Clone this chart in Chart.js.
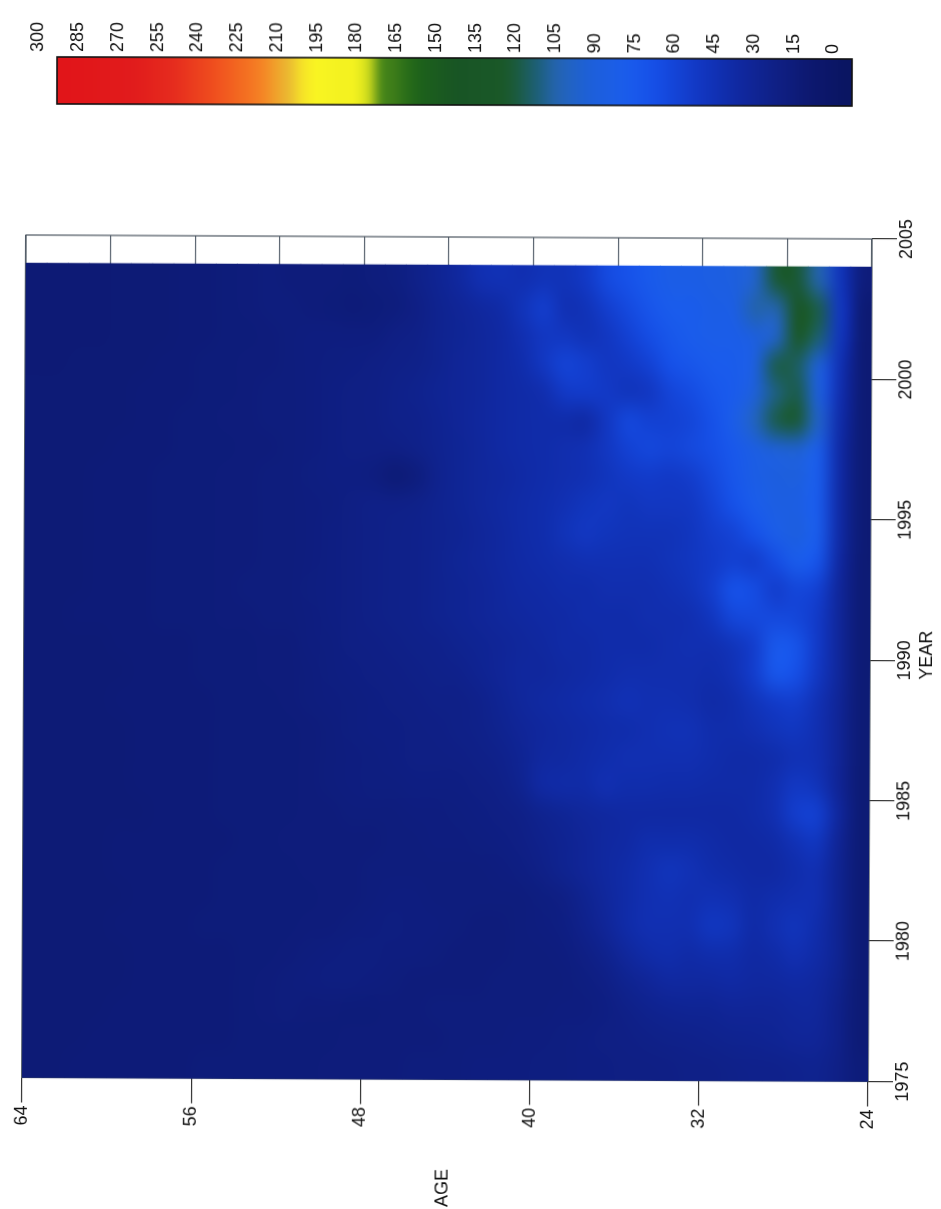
<!DOCTYPE html>
<html><head><meta charset="utf-8">
<style>
html,body{margin:0;padding:0;background:#fff;width:941px;height:1209px;overflow:hidden}
canvas{position:absolute;left:0;top:0;filter:blur(.45px)}
#main{transform-origin:447px 658px;transform:rotate(.27deg)}
#bar{transform-origin:455px 82px;transform:rotate(.15deg)}
</style>
<script src="https://cdn.jsdelivr.net/npm/chart.js@4"></script>
</head><body>
<canvas id="main" width="941" height="1209"></canvas>
<canvas id="bar" width="941" height="125"></canvas>
<script>
const xTitle = "AGE";
const yTitle = "YEAR";
const ageBins = [24,25,26,27,28,29,30,31,32,33,34,35,36,37,38,39,40,41,42,43,44,45,46,47,48,49,50,51,52,53,54,55,56,57,58,59,60,61,62,63];
const yearBins = [1975,1976,1977,1978,1979,1980,1981,1982,1983,1984,1985,1986,1987,1988,1989,1990,1991,1992,1993,1994,1995,1996,1997,1998,1999,2000,2001,2002,2003];
const ageTicksLabelled = [24,32,40,48,56,64];
const y1975=[22,30,34,33,32,32,31,30,30,29, 28,28,27,27,26,26,25,25,25,24, 24,24,23,23,23,23,22,22,22,22, 22,22,21,21,21,21,21,21,20,20];
const y1976=[20,32,38,38,36,35,34,33,32,31, 30,29,28,27,26,25,25,24,24,24, 23,23,23,23,23,22,22,22,22,22, 21,21,21,21,21,21,21,20,20,20];
const y1977=[20,32,40,40,38,38,38,36,36,35, 33,30,27,25,25,24,24,24,24,24, 24,23,23,22,22,23,23,24,23,22, 21,21,21,21,21,21,20,20,20,20];
const y1978=[20,34,42,44,42,42,44,42,42,42, 38,34,29,26,24,24,24,24,23,23, 23,23,24,25,26,26,25,24,23,22, 21,21,21,21,21,20,20,20,20,20];
const y1979=[20,36,46,50,46,44,48,48,46,48, 46,40,33,28,25,24,24,23,23,23, 24,25,25,26,26,25,24,23,22,22, 21,21,21,21,21,20,20,20,20,20];
const y1980=[20,36,48,54,50,46,54,56,50,50, 50,46,38,32,27,25,24,23,23,24, 25,25,26,25,24,23,23,22,22,22, 22,22,21,21,21,21,20,20,20,20];
const y1981=[20,36,50,50,48,46,50,52,50,52, 50,46,40,34,28,26,24,24,24,24, 24,25,25,24,23,23,22,22,22,22, 22,21,21,21,21,20,20,20,20,20];
const y1982=[20,36,50,48,44,44,46,48,52,54, 50,46,42,38,34,30,27,25,24,24, 24,24,24,24,23,23,23,22,22,22, 22,21,21,21,21,21,20,20,20,20];
const y1983=[20,38,56,52,46,44,44,46,48,48, 48,44,42,38,35,32,29,27,26,25, 25,24,24,23,23,23,23,23,22,22, 21,21,21,21,21,21,20,20,20,20];
const y1984=[20,42,64,62,50,46,44,44,44,44, 44,44,42,40,37,34,30,28,27,26, 25,25,24,24,24,23,23,22,22,22, 22,21,21,21,20,20,20,20,20,20];
const y1985=[20,38,54,58,50,46,46,46,47,47, 48,48,50,46,46,44,34,30,28,27, 27,27,26,26,25,24,23,22,22,22, 22,21,21,21,21,20,20,20,20,20];
const y1986=[20,38,50,52,48,46,46,48,50,50, 50,50,48,46,43,42,36,32,30,29, 28,28,27,26,25,24,23,22,22,22, 22,21,21,21,21,20,20,20,20,20];
const y1987=[20,38,50,56,54,50,48,48,52,52, 50,48,47,45,43,41,38,34,31,30, 29,28,27,27,26,24,23,22,22,22, 22,21,21,21,21,20,20,20,20,20];
const y1988=[20,38,52,62,60,54,48,46,49,50, 50,52,49,47,45,43,40,36,32,30, 30,29,28,27,26,25,24,23,22,22, 22,21,21,21,21,21,20,20,20,20];
const y1989=[20,40,58,74,80,62,52,48,49,49, 49,49,47,45,43,41,41,38,35,32, 31,30,29,28,27,26,24,23,23,22, 22,22,21,21,21,20,20,20,20,20];
const y1990=[20,40,60,78,82,62,54,50,50,49, 47,47,47,45,45,42,40,38,36,34, 32,31,30,29,28,26,25,23,23,22, 22,22,21,21,21,21,20,20,20,20];
const y1991=[20,40,60,68,70,70,68,56,50,49, 49,47,47,47,45,44,42,40,38,36, 34,32,31,30,28,27,25,24,24,23, 23,22,22,22,21,21,21,21,20,20];
const y1992=[20,40,64,68,62,72,76,62,54,51, 49,49,49,47,47,45,44,41,38,36, 34,32,31,30,28,27,26,24,24,24, 23,22,22,22,21,21,21,20,20,20];
const y1993=[20,44,78,86,72,62,64,60,56,53, 51,51,51,51,49,47,45,42,39,37, 34,32,31,30,28,27,25,24,24,23, 23,22,22,22,21,21,21,20,20,20];
const y1994=[20,46,86,94,88,76,66,62,56,53, 53,53,55,57,53,48,46,42,39,36, 34,32,31,30,28,27,25,24,24,23, 23,22,22,22,21,21,21,20,20,20];
const y1995=[20,46,84,92,92,86,76,66,58,57, 57,55,57,55,51,48,46,43,40,37, 34,31,30,30,28,26,25,24,24,23, 23,22,22,22,21,21,21,20,20,20];
const y1996=[20,46,86,95,94,90,80,70,62,59, 61,59,55,51,49,47,45,42,40,37, 33,24,20,25,27,27,26,24,24,23, 23,22,22,22,21,21,21,20,20,20];
const y1997=[20,46,88,102,100,92,82,74,70,67, 69,65,57,51,49,47,46,44,40,37, 34,31,29,28,28,27,25,24,23,23, 22,22,22,21,21,21,20,20,20,20];
const y1998=[20,48,105,128,125,108,88,76,68,65, 65,69,57,45,47,47,46,44,41,38, 35,32,31,29,28,27,25,24,24,23, 23,22,22,21,21,20,20,20,20,20];
const y1999=[20,50,96,125,118,100,84,80,72,67, 57,55,59,61,59,49,46,44,40,38, 36,33,31,29,28,27,25,24,24,23, 22,22,21,21,21,20,20,20,20,20];
const y2000=[20,52,100,122,125,96,86,84,80,75, 65,59,57,63,66,57,48,44,40,38, 34,31,30,28,27,26,25,24,23,23, 22,22,21,21,20,20,20,20,19,19];
const y2001=[20,56,120,130,106,96,88,88,86,81, 73,65,57,53,57,57,50,44,40,37, 34,30,28,25,25,25,25,24,23,22, 22,21,21,20,20,20,19,19,19,19];
const y2002=[20,58,125,140,112,112,92,90,86,85, 79,71,63,53,51,62,54,46,42,38, 34,29,24,22,21,22,23,24,24,23, 22,21,21,20,20,20,19,19,19,19];
const y2003=[24,55,112,128,128,105,95,92,90,89, 83,77,71,59,53,53,50,52,50,42, 36,31,26,24,22,23,23,23,24,23, 22,21,21,20,20,20,19,19,19,19];
const rateRows=[y1975,y1976,y1977,y1978,y1979,y1980,y1981,y1982,y1983,y1984,y1985,y1986,y1987,y1988,y1989,y1990,y1991,y1992,y1993,y1994,y1995,y1996,y1997,y1998,y1999,y2000,y2001,y2002,y2003];
const legendBins=[0,5,10,15,20,25,30,35,40,45,50,55,60,65,70,75,80,85,90,95,100,105,110,115,120,125,130,135,140,145,150,155,160,165,170,175,180,185,190,195,200,205,210,215,220,225,230,235,240,245,250,255,260,265,270,275,280,285,290,295];
const stopValues=[0,15,30,45,60,75,85,100,111,120,130,150,165,178,184,205,212,224,240,255,270,300];
const stopColors=[[10,20,96],[12,24,110],[15,32,135],[16,42,165],[18,58,200],[22,80,232],[26,92,236],[30,96,215],[36,100,180],[28,95,110],[26,88,40],[24,84,36],[30,100,25],[80,140,25],[240,240,30],[250,245,35],[235,190,50],[245,125,35],[240,80,30],[230,45,30],[225,28,28],[225,20,25]];

function colorFor(v){
  let i=0; while(i<stopValues.length-2 && v>stopValues[i+1]) i++;
  const t=Math.max(0,Math.min(1,(v-stopValues[i])/(stopValues[i+1]-stopValues[i])));
  const a=stopColors[i],b=stopColors[i+1];
  return `rgb(${a.map((c,k)=>Math.round(c+(b[k]-c)*t)).join(',')})`;
}
const FONT="'Liberation Sans',Arial,sans-serif";
Chart.defaults.font.family=FONT;
Chart.defaults.font.size=18;
Chart.defaults.color='#111';
Chart.defaults.animation=false;

function smooth(c,L,T,W,H,cols,rows){
  const t=document.createElement('canvas');t.width=cols;t.height=rows;
  const tg=t.getContext('2d');tg.imageSmoothingEnabled=false;
  tg.drawImage(c.canvas,L,T,W,H,0,0,cols,rows);
  const g=c.ctx;g.save();g.beginPath();g.rect(L,T,W,H);g.clip();
  g.imageSmoothingEnabled=true;g.imageSmoothingQuality='high';
  g.drawImage(t,L,T,W,H);g.restore();
}
const framePlugin={id:'frame',beforeDatasetsDraw(c){
  const a=c.chartArea,g=c.ctx;g.save();g.strokeStyle='#4b5560';g.lineWidth=1.2;
  g.strokeRect(a.left,a.top,a.width,a.height);g.restore();}};
const smoothPlugin={id:'smooth',afterDatasetsDraw(c){
  const xs=c.scales.x,ys=c.scales.y;
  const L=xs.getPixelForValue(ageBins[ageBins.length-1]+1),R=xs.getPixelForValue(ageBins[0]);
  const T=ys.getPixelForValue(yearBins[yearBins.length-1]+1),B=ys.getPixelForValue(yearBins[0]);
  smooth(c,L,T,R-L,B-T,ageBins.length,yearBins.length);}};
const titlePlugin={id:'titles',afterDraw(c){
  const g=c.ctx;g.save();g.fillStyle='#111';g.font='18px '+FONT;g.textAlign='center';g.textBaseline='middle';
  [[xTitle,445,1188],[yTitle,927,653]].forEach(([s,x,y])=>{g.save();g.translate(x,y);g.rotate(-Math.PI/2);g.fillText(s,0,0);g.restore();});
  g.restore();}};

new Chart(document.getElementById('main'),{
  type:'bar',
  data:{datasets:yearBins.map((yr,r)=>({
    data:ageBins.map(a=>({x:a+0.5,y:[yr,yr+1]})),
    backgroundColor:rateRows[r].map(colorFor),
    borderWidth:0,barPercentage:1,categoryPercentage:1,grouped:false}))},
  options:{responsive:false,animation:false,
    layout:{padding:{left:24,top:237,right:0,bottom:0}},
    plugins:{legend:{display:false},tooltip:{enabled:false}},
    scales:{
      x:{type:'linear',position:'bottom',reverse:true,min:24,max:64,offset:false,
        afterFit(s){s.height=129.5;},
        border:{display:false},
        grid:{offset:false,display:true,color:'#5a6470',lineWidth:1.2,tickLength:25,
          tickColor:ctx=>ageTicksLabelled.includes(ctx.tick&&ctx.tick.value)?'#333':'rgba(0,0,0,0)'},
        ticks:{stepSize:4,autoSkip:false,minRotation:90,maxRotation:90,padding:3,
          callback:v=>ageTicksLabelled.includes(v)?String(v):''}},
      y:{type:'linear',position:'right',min:1975,max:2005,
        afterFit(s){s.width=71;},
        border:{display:false},
        grid:{drawOnChartArea:false,tickLength:25,tickColor:'#333',lineWidth:1.2},
        ticks:{stepSize:5,autoSkip:false,minRotation:90,maxRotation:90,crossAlign:'center',padding:-10,
          callback:v=>String(v)}}
    }},
  plugins:[framePlugin,smoothPlugin,titlePlugin]
});

new Chart(document.getElementById('bar'),{
  type:'bar',
  data:{datasets:[{
    data:legendBins.map(v=>({x:v+2.5,y:[0,1]})),
    backgroundColor:legendBins.map(v=>colorFor(v+2.5)),
    borderWidth:0,barPercentage:1,categoryPercentage:1,grouped:false}]},
  options:{responsive:false,animation:false,
    layout:{padding:{left:57,right:89,top:0,bottom:20}},
    plugins:{legend:{display:false},tooltip:{enabled:false}},
    scales:{
      x:{type:'linear',position:'top',reverse:true,min:0,max:300,offset:false,
        afterFit(s){s.height=58;},
        border:{display:false},grid:{display:false,offset:false},
        ticks:{stepSize:15,autoSkip:false,minRotation:90,maxRotation:90,padding:-3,labelOffset:3,
          callback:v=>String(v)}},
      y:{display:false,min:0,max:1}
    }},
  plugins:[{id:'barFrame',afterDatasetsDraw(c){
    const a=c.chartArea,g=c.ctx;
    smooth(c,a.left,a.top,a.width,a.height,legendBins.length,1);
    g.save();g.strokeStyle='#111';g.lineWidth=1.6;g.strokeRect(a.left,a.top,a.width,a.height);g.restore();}}]
});
</script>
</body></html>
